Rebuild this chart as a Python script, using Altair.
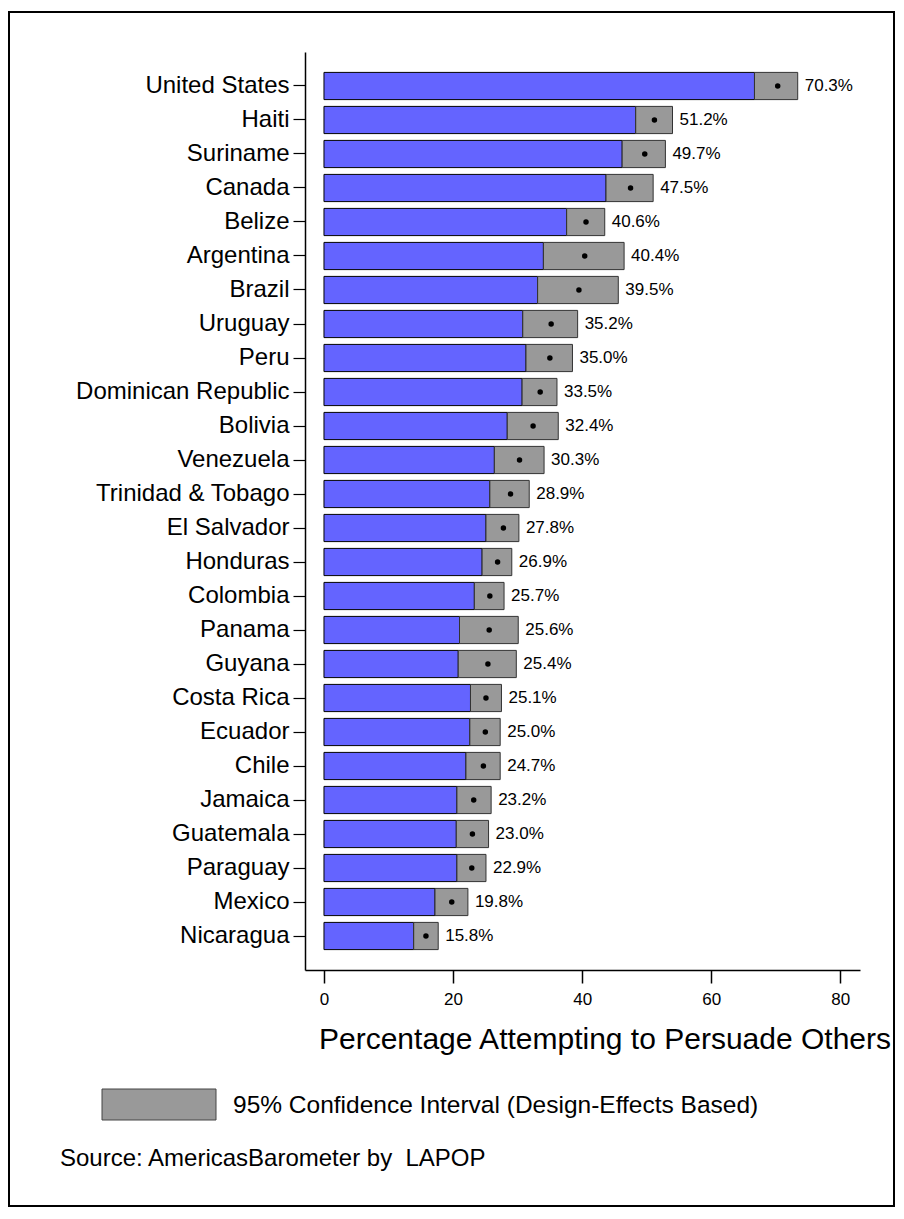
import altair as alt
import pandas as pd

countries = ["United States", "Haiti", "Suriname", "Canada", "Belize", "Argentina", "Brazil",
             "Uruguay", "Peru", "Dominican Republic", "Bolivia", "Venezuela", "Trinidad & Tobago",
             "El Salvador", "Honduras", "Colombia", "Panama", "Guyana", "Costa Rica", "Ecuador",
             "Chile", "Jamaica", "Guatemala", "Paraguay", "Mexico", "Nicaragua"]
means = [70.3, 51.2, 49.7, 47.5, 40.6, 40.4, 39.5, 35.2, 35.0, 33.5, 32.4, 30.3, 28.9,
         27.8, 26.9, 25.7, 25.6, 25.4, 25.1, 25.0, 24.7, 23.2, 23.0, 22.9, 19.8, 15.8]
ci_low = [66.7, 48.3, 46.2, 43.7, 37.6, 34.0, 33.1, 30.8, 31.3, 30.7, 28.4, 26.4, 25.7,
          25.1, 24.5, 23.3, 21.0, 20.8, 22.7, 22.6, 22.0, 20.6, 20.5, 20.6, 17.2, 13.9]
ci_high = [73.4, 54.0, 52.9, 51.0, 43.5, 46.5, 45.6, 39.3, 38.5, 36.1, 36.3, 34.1, 31.8,
           30.2, 29.1, 27.9, 30.1, 29.8, 27.5, 27.3, 27.3, 25.9, 25.5, 25.1, 22.3, 17.7]
x_ticks = [0, 20, 40, 60, 80]

x_title = "Percentage Attempting to Persuade Others"
legend_label = "95% Confidence Interval (Design-Effects Based)"
source_label = "Source: AmericasBarometer by\u00a0 LAPOP"

FONT = "Liberation Sans"

df = pd.DataFrame({"country": countries, "mean": means, "lo": ci_low, "hi": ci_high})
one = pd.DataFrame({"k": [0]})

xscale = alt.Scale(domain=[-2.94, 83.05], nice=False, zero=False)
yscale = alt.Scale(paddingInner=0.2, paddingOuter=0.6)

yenc = alt.Y("country:N", sort=countries, scale=yscale,
             axis=alt.Axis(title=None, tickSize=12, labelFontSize=24, labelPadding=4,
                           labelFont=FONT, labelColor="black", tickColor="black",
                           domainColor="black", domainWidth=1.5, tickWidth=1.2, grid=False,
                           labelLimit=400))

base = alt.Chart(df).transform_calculate(base="0", label="format(datum.mean, '.1f') + '%'")

blue = base.mark_bar(color="#6464FF", stroke="black", strokeWidth=1).encode(
    x=alt.X("base:Q", scale=xscale,
            axis=alt.Axis(title=None, values=x_ticks, tickSize=13, labelFontSize=17,
                          labelPadding=8, labelFont=FONT, labelColor="black",
                          tickColor="black", domainColor="black", domainWidth=1.5,
                          tickWidth=1.5, grid=False)),
    x2="lo:Q",
    y=yenc,
)

gray = base.mark_bar(color="#999999", stroke="#333333", strokeWidth=1).encode(
    x=alt.X("lo:Q", scale=xscale), x2="hi:Q", y=alt.Y("country:N", sort=countries, scale=yscale))

dots = base.mark_point(filled=True, color="black", size=30, opacity=1).encode(
    x=alt.X("mean:Q", scale=xscale), y=alt.Y("country:N", sort=countries, scale=yscale))

labels = base.mark_text(align="left", baseline="middle", dx=7, fontSize=17, font=FONT,
                        color="black").encode(
    x=alt.X("hi:Q", scale=xscale), y=alt.Y("country:N", sort=countries, scale=yscale),
    text="label:N")

title_txt = alt.Chart(one).mark_text(text=x_title, align="left", baseline="alphabetic",
                                     fontSize=30, font=FONT, color="black").encode(
    x=alt.value(14), y=alt.value(997))

legend_box = alt.Chart(one).mark_rect(fill="#999999", stroke="#444444", strokeWidth=1).encode(
    x=alt.value(-203), x2=alt.value(-89), y=alt.value(1037), y2=alt.value(1068))

legend_txt = alt.Chart(one).mark_text(text=legend_label, align="left", baseline="middle",
                                      fontSize=24.5, font=FONT, color="black").encode(
    x=alt.value(-72), y=alt.value(1054))

source_txt = alt.Chart(one).mark_text(text=source_label, align="left", baseline="middle",
                                      fontSize=24, font=FONT, color="black").encode(
    x=alt.value(-245), y=alt.value(1107))

border = alt.Chart(one).mark_rect(fillOpacity=0, stroke="black", strokeWidth=2).encode(
    x=alt.value(-296), x2=alt.value(589), y=alt.value(-40), y2=alt.value(1154))

chart = alt.layer(blue, gray, dots, labels, title_txt, legend_box, legend_txt, source_txt,
                  border).properties(
    width=555, height=918,
    autosize=alt.AutoSizeParams(type="none"),
    padding={"left": 297, "top": 44, "right": 36, "bottom": 238},
).configure(background="white", view=alt.ViewConfig(stroke=None))

chart.save("out.html", embed_options={"renderer": "svg", "actions": False})
